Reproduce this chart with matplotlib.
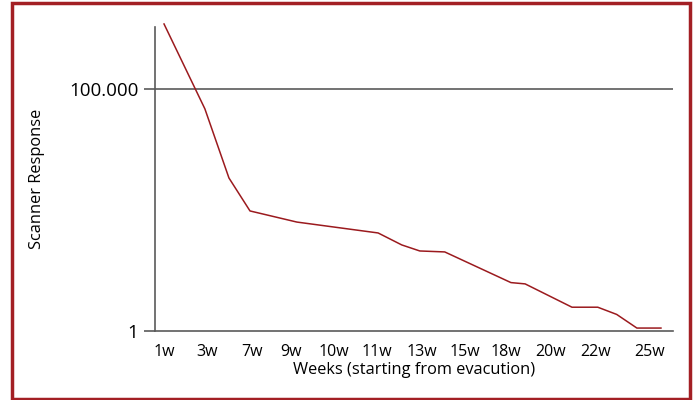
import numpy as np
import matplotlib
matplotlib.use('Agg')
import matplotlib.pyplot as plt
from matplotlib.patches import Rectangle

# x positions are in "tick slot" units (1w = 0, 3w = 1, ...)
tick_labels = ['1w', '3w', '7w', '9w', '10w', '11w', '13w', '15w', '18w', '20w', '22w', '25w']
tick_pos = [0, 1, 2.05, 2.95, 3.95, 4.95, 6, 7, 7.95, 9, 10.05, 11.3]

line_x = [0, 0.95, 1.51, 2.0, 3.09, 4.98, 5.53, 5.95, 6.53, 8.07, 8.40, 9.49, 10.09, 10.53, 11.0, 11.56]
line_y = [2.2e6, 38900, 1450, 302, 178, 106, 60, 45, 43, 10, 9.4, 3.1, 3.1, 2.2, 1.15, 1.15]

red = '#9b1a1e'
grey = '#5a5a5a'

plt.rcParams['font.family'] = ['Open Sans', 'DejaVu Sans']

fig = plt.figure(figsize=(6.94, 4.0), dpi=100)
ax = fig.add_axes([155 / 694, 1 - 331 / 400, (673 - 155) / 694, (331 - 27) / 400])

ax.plot(line_x, line_y, color=red, lw=1.1, clip_on=False, zorder=3)
ax.set_yscale('log')
ax.set_ylim(1, 10 ** 6.28)
ax.set_xlim(-0.21, 11.84)

ax.set_yticks([1, 100000])
ax.set_yticklabels(['1', '100.000'], fontsize=13.5)
ax.yaxis.set_minor_locator(matplotlib.ticker.NullLocator())
ax.tick_params(axis='y', length=8, width=1.2, color=grey, pad=4)
ax.axhline(100000, color=grey, lw=1.2, zorder=1)

ax.set_xticks(tick_pos)
ax.set_xticklabels(tick_labels, fontsize=11.5)
ax.tick_params(axis='x', length=0, pad=9)

for s in ['top', 'right']:
    ax.spines[s].set_visible(False)
for s in ['left', 'bottom']:
    ax.spines[s].set_color(grey)
    ax.spines[s].set_linewidth(1.2)

ax.set_xlabel('Weeks (starting from evacution)', fontsize=11.8, labelpad=2)
ax.set_ylabel('Scanner Response', fontsize=11.8, labelpad=0)
ax.yaxis.set_label_coords(-(155 - 45) / 518, 0.5)

fig.patches.append(Rectangle((12 / 694, 1.5 / 400), (690 - 12) / 694, (395.5 - 0) / 400,
                             transform=fig.transFigure, fill=False, edgecolor='#a31f24', lw=2.5))

fig.savefig('out.png', dpi=100)
